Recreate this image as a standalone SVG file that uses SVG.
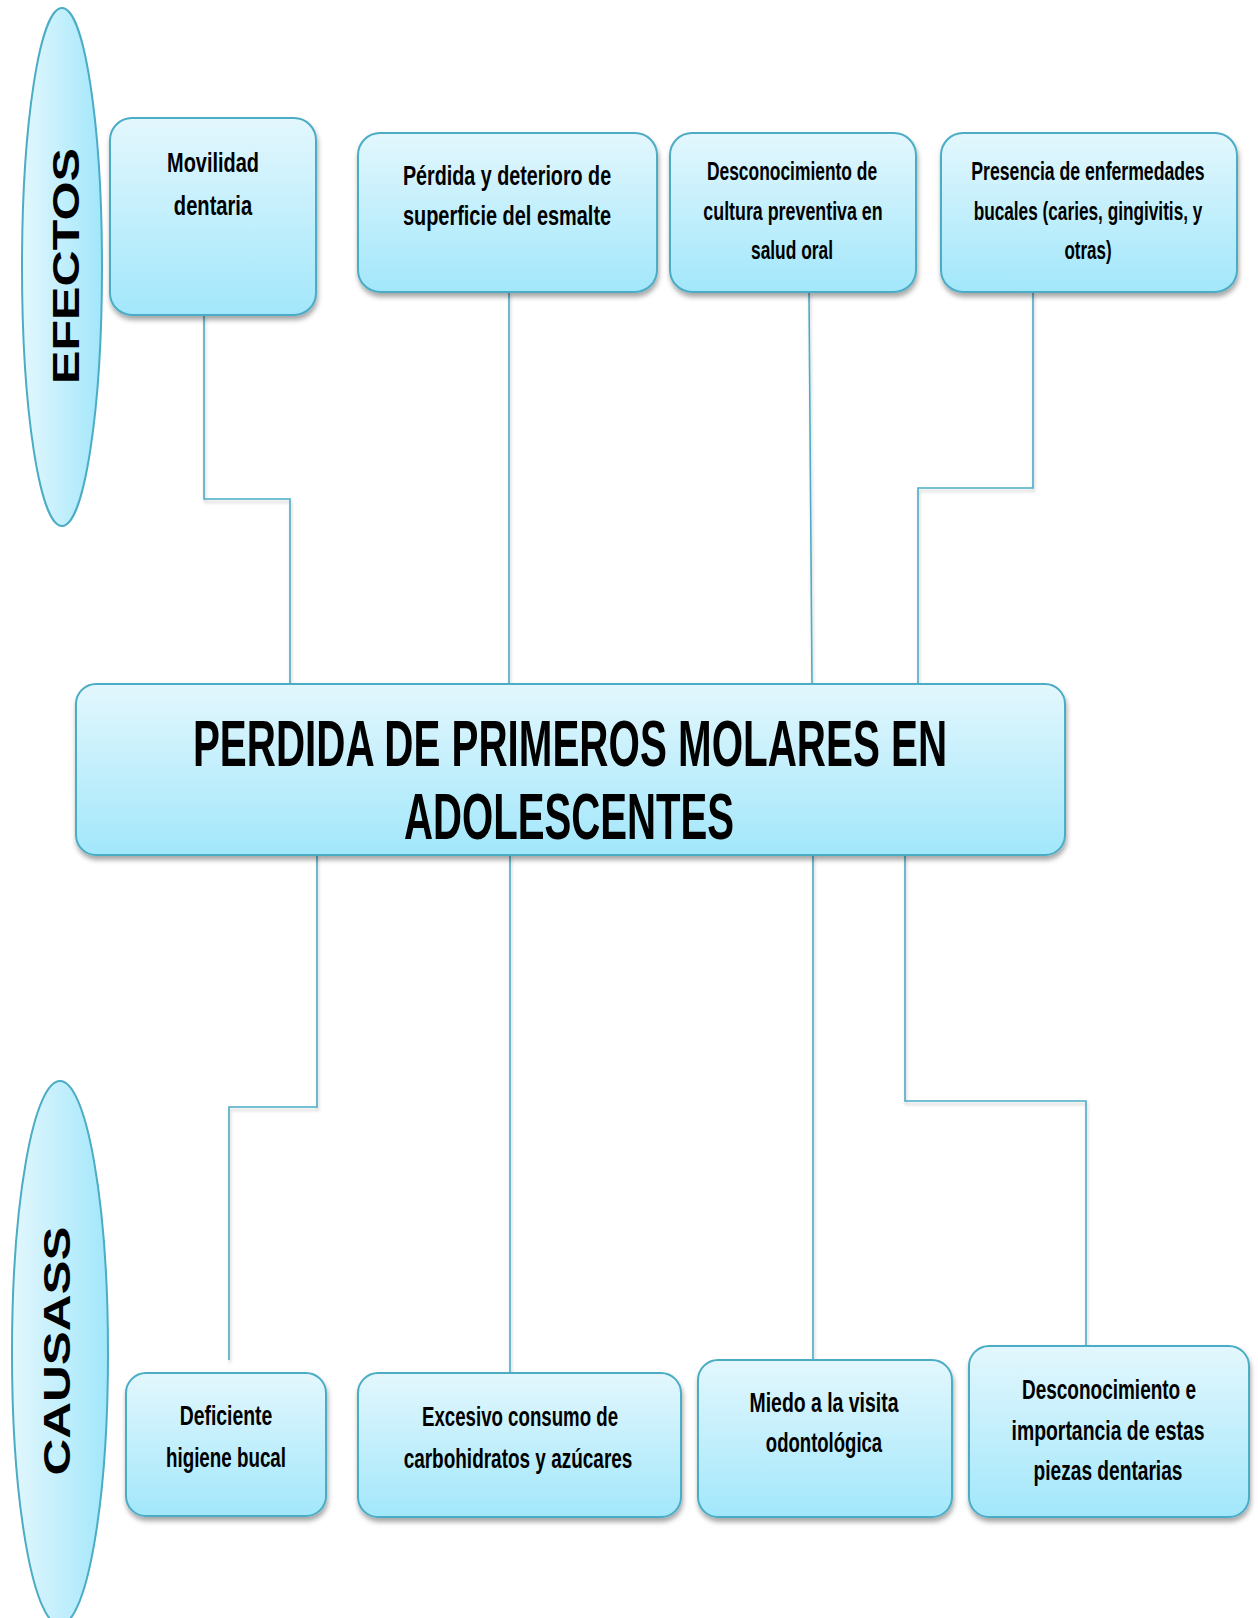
<svg xmlns="http://www.w3.org/2000/svg" width="1258" height="1618" viewBox="0 0 1258 1618">
<style>
.box{fill:url(#bg);stroke:#4BACC6;stroke-width:2;filter:url(#sh)}
.ell{fill:url(#eg);stroke:#4BACC6;stroke-width:2}
.t{font-family:"Liberation Sans",Arial,sans-serif;font-weight:bold;fill:#000;text-anchor:middle}
.side{font-family:"Liberation Sans",Arial,sans-serif;font-weight:bold;fill:#000;text-anchor:middle}
.c{fill:none;stroke:#4BACC6;stroke-width:1.6}
</style>
<defs>
<linearGradient id="bg" x1="0" y1="0" x2="0" y2="1">
<stop offset="0" stop-color="#E3F7FD"/>
<stop offset="1" stop-color="#A2E7FB"/>
</linearGradient>
<linearGradient id="eg" x1="0" y1="0" x2="1" y2="0">
<stop offset="0" stop-color="#E3F7FD"/>
<stop offset="1" stop-color="#A2E7FB"/>
</linearGradient>
<filter id="sh" x="-10%" y="-10%" width="120%" height="130%">
<feDropShadow dx="1" dy="4" stdDeviation="2.5" flood-color="#000" flood-opacity="0.35"/>
</filter>
<filter id="lsh" filterUnits="userSpaceOnUse" x="0" y="0" width="1258" height="1618">
<feDropShadow dx="1" dy="3" stdDeviation="1.5" flood-color="#000" flood-opacity="0.2"/>
</filter>
</defs>
<rect width="1258" height="1618" fill="#fff"/>

<g id="connectors" filter="url(#lsh)">
<path class="c" d="M204 314 V499 H290 V685"/>
<path class="c" d="M509 292 V685"/>
<path class="c" d="M809 292 L812 685"/>
<path class="c" d="M1033 292 V488 H918 V685"/>
<path class="c" d="M317 855 V1107 H229 V1360"/>
<path class="c" d="M510 855 V1373"/>
<path class="c" d="M813 855 V1360"/>
<path class="c" d="M905 855 V1101 H1086 V1346"/>
</g>

<g id="efectos">
<ellipse class="ell" cx="62" cy="267" rx="40" ry="259"/>
<text class="side" font-size="36" transform="translate(79 266) rotate(-90)" textLength="236" lengthAdjust="spacingAndGlyphs">EFECTOS</text>
</g>

<g id="causas">
<ellipse class="ell" cx="60" cy="1353" rx="48" ry="272"/>
<text class="side" font-size="37" transform="translate(70 1351) rotate(-90)" textLength="249" lengthAdjust="spacingAndGlyphs">CAUSASS</text>
</g>

<g id="e1">
<rect class="box" x="110" y="118" width="206" height="197" rx="22"/>
<text class="t" font-size="28" transform="matrix(0.76 0 0 1 213 172)" textLength="121" lengthAdjust="spacingAndGlyphs">Movilidad</text>
<text class="t" font-size="28" transform="matrix(0.76 0 0 1 213 215)" textLength="103" lengthAdjust="spacingAndGlyphs">dentaria</text>
</g>

<g id="e2">
<rect class="box" x="358" y="133" width="299" height="159" rx="22"/>
<text class="t" font-size="28" transform="matrix(0.76 0 0 1 507 185)" textLength="274" lengthAdjust="spacingAndGlyphs">Pérdida y deterioro de</text>
<text class="t" font-size="28" transform="matrix(0.76 0 0 1 507 225)" textLength="274" lengthAdjust="spacingAndGlyphs">superficie del esmalte</text>
</g>

<g id="e3">
<rect class="box" x="670" y="133" width="246" height="159" rx="22"/>
<text class="t" font-size="25" transform="matrix(0.76 0 0 1 792 180)" textLength="224" lengthAdjust="spacingAndGlyphs">Desconocimiento de</text>
<text class="t" font-size="25" transform="matrix(0.76 0 0 1 793 220)" textLength="236" lengthAdjust="spacingAndGlyphs">cultura preventiva en</text>
<text class="t" font-size="25" transform="matrix(0.76 0 0 1 792 259)" textLength="108" lengthAdjust="spacingAndGlyphs">salud oral</text>
</g>

<g id="e4">
<rect class="box" x="941" y="133" width="296" height="159" rx="22"/>
<text class="t" font-size="25" transform="matrix(0.76 0 0 1 1088 180)" textLength="307" lengthAdjust="spacingAndGlyphs">Presencia de enfermedades</text>
<text class="t" font-size="25" transform="matrix(0.76 0 0 1 1088 220)" textLength="301" lengthAdjust="spacingAndGlyphs">bucales (caries, gingivitis, y</text>
<text class="t" font-size="25" transform="matrix(0.76 0 0 1 1088 259)" textLength="62" lengthAdjust="spacingAndGlyphs">otras)</text>
</g>

<g id="main">
<rect class="box" x="76" y="684" width="989" height="171" rx="20"/>
<text class="t" font-size="64" transform="matrix(0.63 0 0 1 570 766)" textLength="1197" lengthAdjust="spacingAndGlyphs">PERDIDA DE PRIMEROS MOLARES EN</text>
<text class="t" font-size="64" transform="matrix(0.63 0 0 1 569 839)" textLength="524" lengthAdjust="spacingAndGlyphs">ADOLESCENTES</text>
</g>

<g id="c1">
<rect class="box" x="126" y="1373" width="200" height="143" rx="20"/>
<text class="t" font-size="28" transform="matrix(0.76 0 0 1 226 1425)" textLength="122" lengthAdjust="spacingAndGlyphs">Deficiente</text>
<text class="t" font-size="28" transform="matrix(0.76 0 0 1 226 1467)" textLength="158" lengthAdjust="spacingAndGlyphs">higiene bucal</text>
</g>

<g id="c2">
<rect class="box" x="358" y="1373" width="323" height="144" rx="20"/>
<text class="t" font-size="28" transform="matrix(0.76 0 0 1 520 1426)" textLength="258" lengthAdjust="spacingAndGlyphs">Excesivo consumo de</text>
<text class="t" font-size="28" transform="matrix(0.76 0 0 1 518 1468)" textLength="301" lengthAdjust="spacingAndGlyphs">carbohidratos y azúcares</text>
</g>

<g id="c3">
<rect class="box" x="698" y="1360" width="254" height="157" rx="20"/>
<text class="t" font-size="28" transform="matrix(0.76 0 0 1 824 1412)" textLength="196" lengthAdjust="spacingAndGlyphs">Miedo a la visita</text>
<text class="t" font-size="28" transform="matrix(0.76 0 0 1 824 1452)" textLength="153" lengthAdjust="spacingAndGlyphs">odontológica</text>
</g>

<g id="c4">
<rect class="box" x="969" y="1346" width="280" height="171" rx="20"/>
<text class="t" font-size="28" transform="matrix(0.76 0 0 1 1109 1399)" textLength="229" lengthAdjust="spacingAndGlyphs">Desconocimiento e</text>
<text class="t" font-size="28" transform="matrix(0.76 0 0 1 1108 1440)" textLength="254" lengthAdjust="spacingAndGlyphs">importancia de estas</text>
<text class="t" font-size="28" transform="matrix(0.76 0 0 1 1108 1480)" textLength="196" lengthAdjust="spacingAndGlyphs">piezas dentarias</text>
</g>
</svg>
